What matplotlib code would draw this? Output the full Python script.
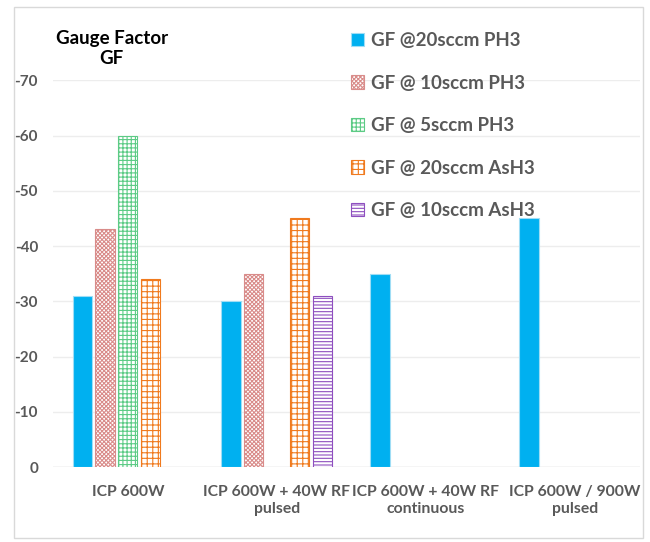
import matplotlib.pyplot as plt
import matplotlib.patches as mpatches
import numpy as np

plt.rcParams['font.family'] = ['Lato', 'DejaVu Sans']
plt.rcParams['hatch.linewidth'] = 0.8

categories = ["ICP 600W", "ICP 600W + 40W RF\npulsed",
              "ICP 600W + 40W RF\ncontinuous", "ICP 600W / 900W\npulsed"]
series_names = ["GF @20sccm PH3", "GF @ 10sccm PH3", "GF @ 5sccm PH3",
                "GF @ 20sccm AsH3", "GF @ 10sccm AsH3"]
gf_20_ph3 = [-31, -30, -35, -45]
gf_10_ph3 = [-43, -35, np.nan, np.nan]
gf_5_ph3 = [-60, np.nan, np.nan, np.nan]
gf_20_ash3 = [-34, -45, np.nan, np.nan]
gf_10_ash3 = [np.nan, -31, np.nan, np.nan]
yticks = [0, -10, -20, -30, -40, -50, -60, -70]

series = [gf_20_ph3, gf_10_ph3, gf_5_ph3, gf_20_ash3, gf_10_ash3]
styles = [
    dict(facecolor="#00B0F0", edgecolor="#9FDDF5", hatch=None),
    dict(facecolor="white", edgecolor="#D98C8A", hatch="xxxxxxxx"),
    dict(facecolor="white", edgecolor="#5CCB85", hatch="++++"),
    dict(facecolor="white", edgecolor="#F07A1E", hatch="+++"),
    dict(facecolor="white", edgecolor="#8E4FBF", hatch="-----"),
]

fig = plt.figure(figsize=(6.5, 5.42), dpi=100)
fig.patches.append(mpatches.Rectangle((0.022, 0.008), 0.968, 0.98, transform=fig.transFigure,
                                      fill=False, edgecolor="#D9D9D9", linewidth=1))
ax = fig.add_axes([0.082, 0.138, 0.903, 0.714])

x = np.arange(len(categories))
slot = 0.154
width = 0.128
for i, (vals, st) in enumerate(zip(series, styles)):
    pos = x + (i - 2) * slot
    ax.bar(pos, vals, width, label=series_names[i], linewidth=0.8, **st)

ax.set_ylim(0, -70)
ax.set_xlim(-0.501, 3.439)
ax.set_yticks(yticks)
ax.set_yticklabels([str(t) for t in yticks], color="#595959", fontsize=11, fontweight="bold")
ax.set_xticks(x)
ax.set_xticklabels(categories, color="#595959", fontsize=11.3, fontweight="bold", linespacing=1.33)
ax.tick_params(axis="both", length=0)
ax.tick_params(axis="y", pad=11)
ax.tick_params(axis="x", pad=12.5)
ax.grid(axis="y", color="#EDEDED", linewidth=1)
ax.set_axisbelow(True)
for side in ["top", "right", "left", "bottom"]:
    ax.spines[side].set_visible(False)
ax.axhline(0, color="#E0E0E0", linewidth=1, zorder=0)

fig.text(0.172, 0.911, "Gauge Factor\nGF", ha="center", va="center",
         fontsize=13.5, fontweight="bold", color="black", linespacing=1.2)

leg = ax.legend(loc="upper left", bbox_to_anchor=(0.514, 0.972), bbox_transform=fig.transFigure,
                frameon=False, fontsize=13.5, handlelength=0.7, handleheight=0.7,
                handletextpad=0.35, labelspacing=1.36)
for t in leg.get_texts():
    t.set_color("#595959")
    t.set_fontweight("bold")

fig.savefig("out.png", dpi=100)
